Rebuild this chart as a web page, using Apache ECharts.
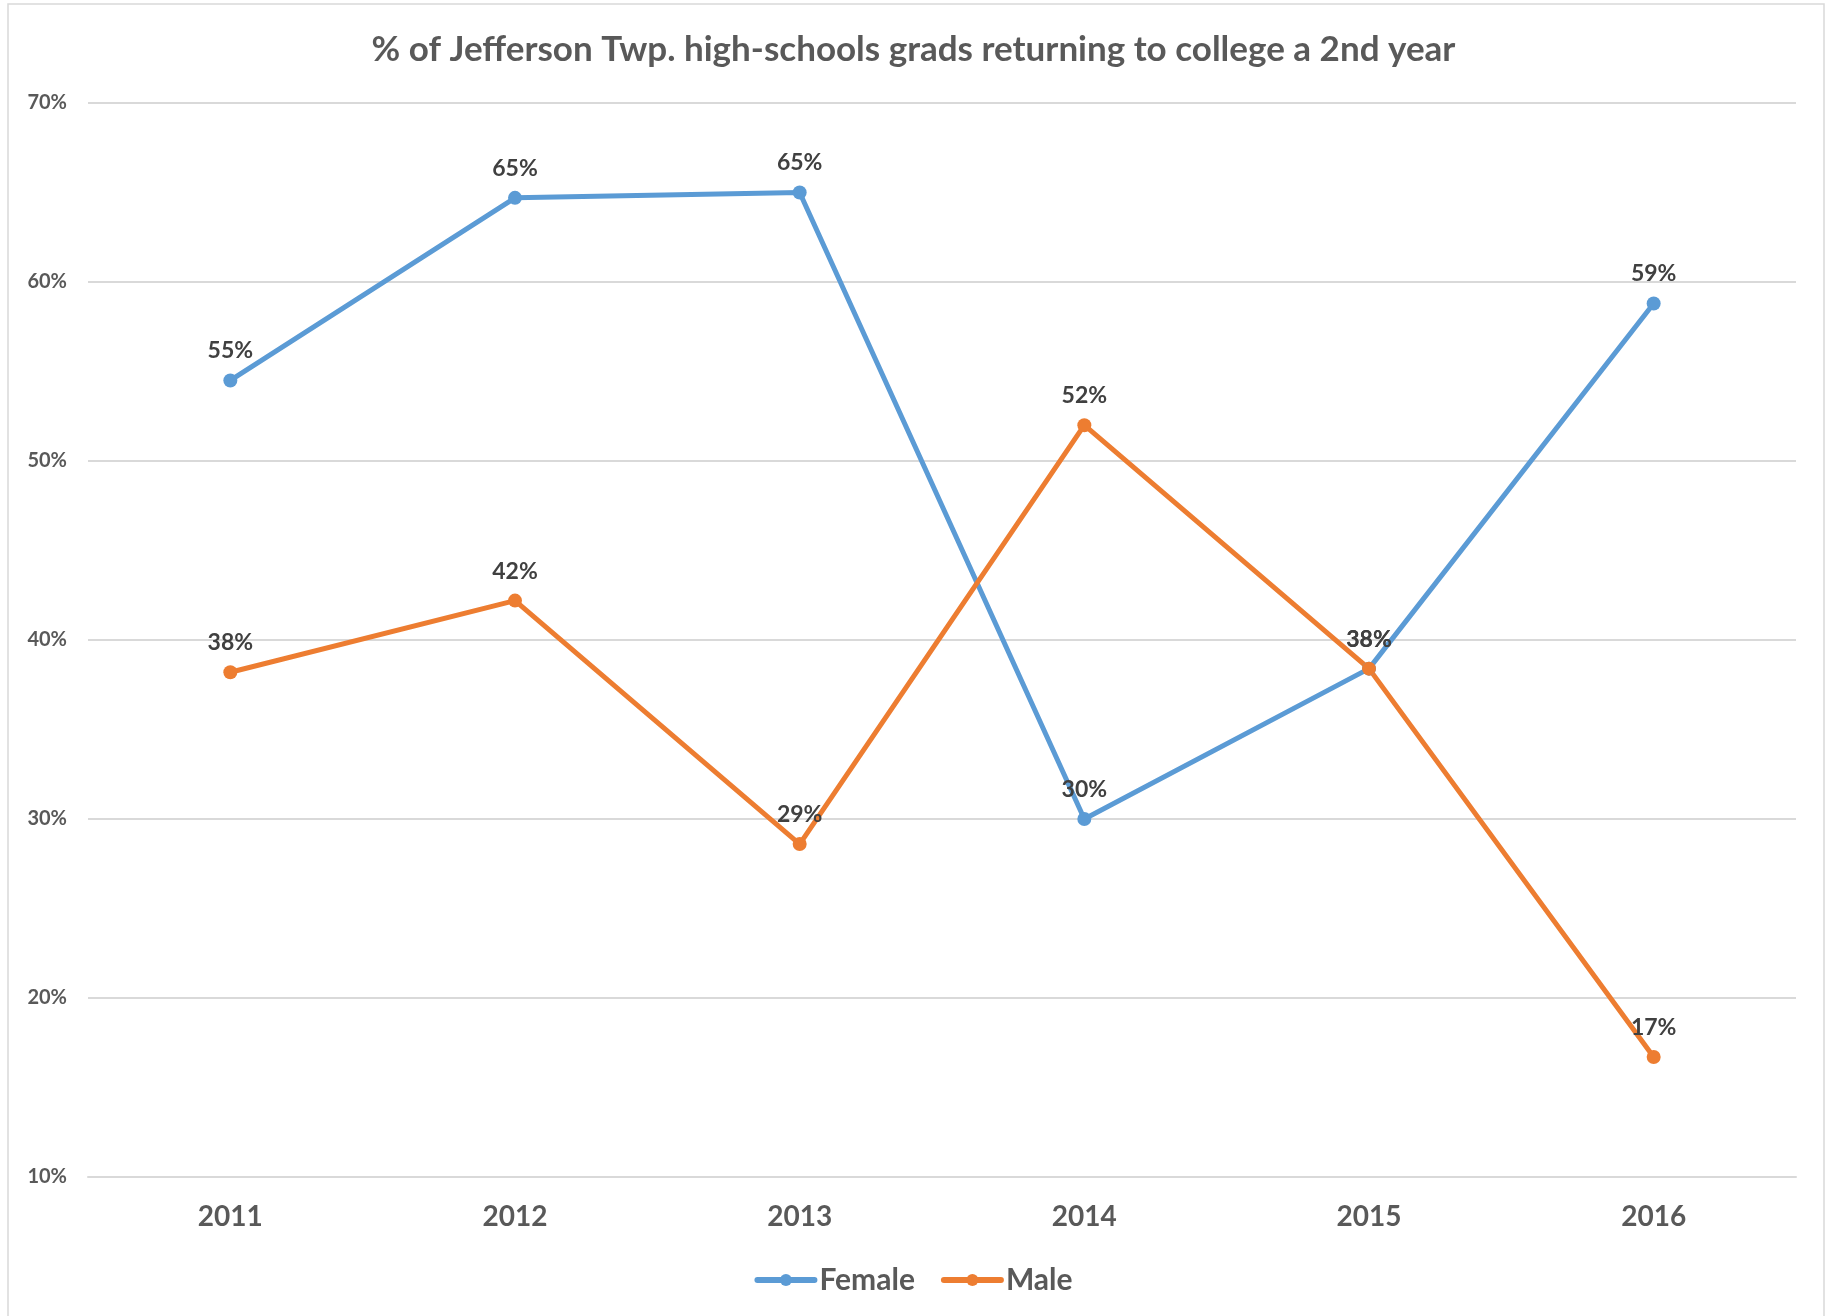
<!DOCTYPE html>
<html>
<head>
<meta charset="utf-8">
<script src="https://cdn.jsdelivr.net/npm/echarts@6/dist/echarts.min.js"></script>
<style>
  html, body { margin: 0; padding: 0; background: #fff; }
  #chart { width: 1827px; height: 1316px; }
</style>
</head>
<body>
<div id="chart"></div>
<script>
// data
const years = ['2011', '2012', '2013', '2014', '2015', '2016'];
const female = [54.5, 64.7, 65.0, 30.0, 38.4, 58.8];
const male = [38.2, 42.2, 28.6, 52.0, 38.4, 16.7];
const yTicks = { min: 10, max: 70, step: 10 };

const FONT = 'Lato';
const BLUE = '#5B9BD5';
const ORANGE = '#ED7D31';

const chart = echarts.init(document.getElementById('chart'));

// line series shared look
function lineSeries(name, data, color) {
  return {
    name: name,
    type: 'line',
    data: data,
    symbol: 'circle',
    symbolSize: 14,
    lineStyle: { width: 5, color: color },
    itemStyle: { color: color },
    label: {
      show: true,
      position: 'top',
      distance: 11,
      color: '#404040',
      fontFamily: FONT,
      fontWeight: 'bold',
      fontSize: 23,
      formatter: (p) => Math.round(p.value) + '%'
    }
  };
}

chart.setOption({
  animation: false,
  backgroundColor: '#fff',
  title: {
    text: '% of Jefferson Twp. high-schools grads returning to college a 2nd year',
    left: 'center',
    top: 27,
    textStyle: { color: '#595959', fontFamily: FONT, fontWeight: 'bold', fontSize: 35 }
  },
  legend: {
    bottom: 16,
    left: 'center',
    itemWidth: 57,
    itemHeight: 15,
    itemGap: 26,
    lineStyle: { width: 6, cap: 'round' },
    textStyle: { color: '#595959', fontFamily: FONT, fontWeight: 'bold', fontSize: 30 },
    data: ['Female', 'Male']
  },
  grid: { left: 88, right: 31, top: 103, bottom: 139, containLabel: false },
  xAxis: {
    type: 'category',
    data: years,
    boundaryGap: true,
    axisLine: { lineStyle: { color: '#d9d9d9', width: 2 } },
    axisTick: { show: false },
    axisLabel: { color: '#595959', fontFamily: FONT, fontWeight: 'bold', fontSize: 28, margin: 26 }
  },
  yAxis: {
    type: 'value',
    min: yTicks.min,
    max: yTicks.max,
    interval: yTicks.step,
    axisLine: { show: false },
    axisTick: { show: false },
    splitLine: { lineStyle: { color: '#d9d9d9', width: 2 } },
    axisLabel: {
      color: '#595959', fontFamily: FONT, fontWeight: 'bold', fontSize: 20, margin: 21,
      formatter: '{value}%'
    }
  },
  graphic: [{
    type: 'rect',
    shape: { x: 8, y: 4, width: 1816, height: 1330 },
    style: { fill: 'none', stroke: '#d9d9d9', lineWidth: 1.5 },
    silent: true,
    z: -1
  }],
  series: [
    lineSeries('Female', female, BLUE),
    lineSeries('Male', male, ORANGE)
  ]
});
</script>
</body>
</html>
